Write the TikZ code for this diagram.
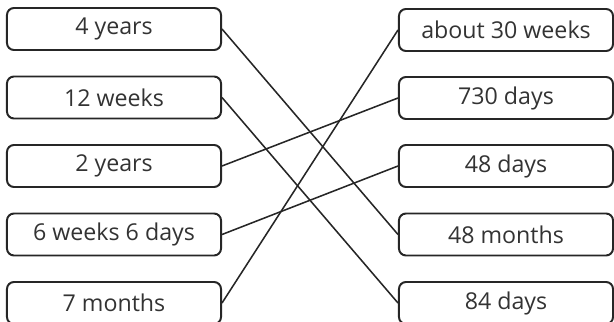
\documentclass[tikz,border=0pt]{standalone}
\usepackage{fontspec}
\setmainfont{Open Sans}
\begin{document}
\begin{tikzpicture}[x=0.025cm,y=-0.025cm,
  box/.style={draw=black!85, line width=1.4pt, rounded corners=5pt, minimum width=5.35cm, minimum height=1.05cm, inner sep=0pt, text=black!80, font=\fontsize{16.5}{19}\selectfont},
  link/.style={draw=black!85, line width=1.1pt}]
\useasboundingbox (0,0) rectangle (614,322);
\node[box] (a) at (114,29) {4 years};
\node[box] (b) at (114,97.5) {12 weeks};
\node[box] (c) at (114,166) {2 years};
\node[box] (d) at (114,234.5) {6 weeks 6 days};
\node[box] (e) at (114,303) {7 months};
\node[box] (f) at (506,30) {about 30 weeks};
\node[box] (g) at (506,98) {730 days};
\node[box] (h) at (506,166) {48 days};
\node[box] (i) at (506,234.5) {48 months};
\node[box] (j) at (506,303) {84 days};
\draw[link] (a.east) -- (i.west);
\draw[link] (b.east) -- (j.west);
\draw[link] (c.east) -- (g.west);
\draw[link] (d.east) -- (h.west);
\draw[link] (e.east) -- (f.west);
\end{tikzpicture}
\end{document}
